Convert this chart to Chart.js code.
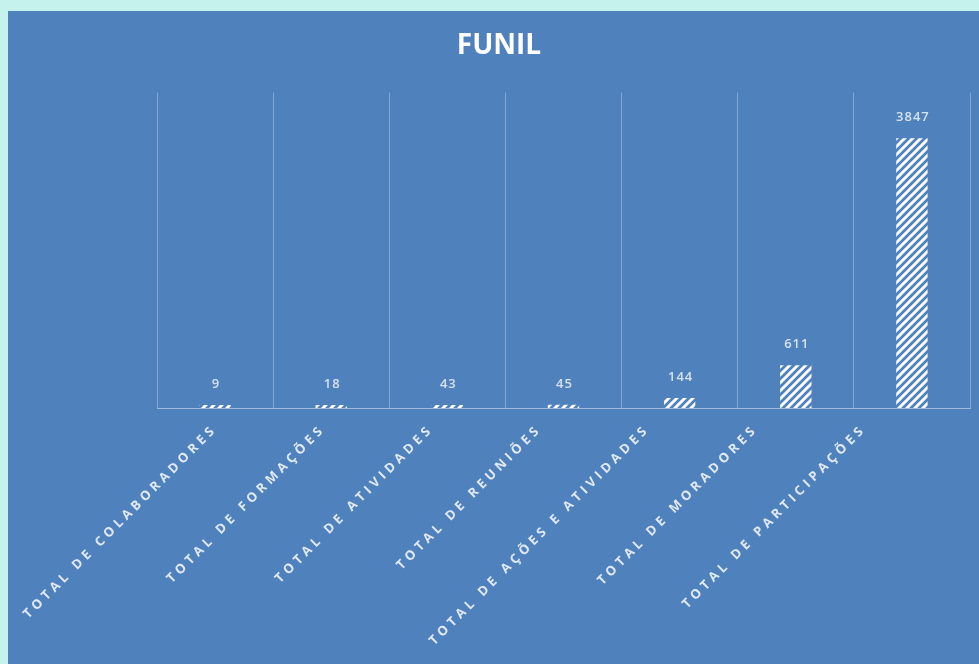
<!DOCTYPE html>
<html>
<head>
<meta charset="utf-8">
<script src="https://cdn.jsdelivr.net/npm/chart.js@4"></script>
<style>
  html, body { margin: 0; padding: 0; background: #c6f2ee; }
  #panel { position: absolute; left: 8px; top: 11px; width: 971px; height: 653px; background: #4f81bd; }
</style>
</head>
<body>
<div id="panel"><canvas id="funilChart" width="971" height="653"></canvas></div>
<script>
// chart data
const categories = [
  'TOTAL DE COLABORADORES',
  'TOTAL DE FORMAÇÕES',
  'TOTAL DE ATIVIDADES',
  'TOTAL DE REUNIÕES',
  'TOTAL DE AÇÕES E ATIVIDADES',
  'TOTAL DE MORADORES',
  'TOTAL DE PARTICIPAÇÕES'
];
const totals = [9, 18, 43, 45, 144, 611, 3847];
const chartTitle = 'FUNIL';

// white diagonal hatch, like the excel pattern fill
function makeHatch() {
  const c = document.createElement('canvas');
  c.width = 8; c.height = 8;
  const g = c.getContext('2d');
  g.strokeStyle = '#ffffff';
  g.lineWidth = 3;
  [[-1, 9, 9, -1], [-5, 5, 5, -5], [3, 13, 13, 3]].forEach(function(l) {
    g.beginPath(); g.moveTo(l[0], l[1]); g.lineTo(l[2], l[3]); g.stroke();
  });
  return g.createPattern(c, 'repeat');
}

// numbers above the bars
const valueLabels = {
  id: 'valueLabels',
  afterDatasetsDraw(chart) {
    const ctx = chart.ctx;
    const meta = chart.getDatasetMeta(0);
    ctx.save();
    ctx.font = '600 13px "Open Sans"';
    ctx.letterSpacing = '1px';
    ctx.fillStyle = 'rgba(228,235,245,0.9)';
    ctx.textAlign = 'center';
    ctx.textBaseline = 'middle';
    meta.data.forEach(function(bar, i) {
      ctx.fillText(String(totals[i]), bar.x + 1, bar.y - 21);
    });
    ctx.restore();
  }
};

// rotated, letter spaced category labels
const categoryLabels = {
  id: 'categoryLabels',
  afterDraw(chart) {
    const ctx = chart.ctx;
    const x = chart.scales.x;
    const top = chart.chartArea.bottom;
    ctx.save();
    ctx.font = 'bold 13px "Open Sans"';
    ctx.letterSpacing = '4px';
    ctx.fillStyle = 'rgba(240,244,250,0.9)';
    ctx.textAlign = 'right';
    ctx.textBaseline = 'middle';
    categories.forEach(function(lbl, i) {
      ctx.save();
      ctx.translate(x.getPixelForValue(i) - i * 8, top + 19);
      ctx.rotate(-Math.PI / 4);
      ctx.fillText(lbl, 0, 0);
      ctx.restore();
    });
    ctx.restore();
  }
};

function initChart() {
  const ctx = document.getElementById('funilChart').getContext('2d');
  new Chart(ctx, {
    type: 'bar',
    data: {
      labels: categories,
      datasets: [{
        data: totals,
        backgroundColor: makeHatch(),
        borderWidth: 0,
        barPercentage: 0.27,
        categoryPercentage: 1,
        minBarLength: 3
      }]
    },
    options: {
      responsive: false,
      animation: false,
      layout: { padding: { left: 20, right: 9, top: 0, bottom: 0 } },
      plugins: {
        legend: { display: false },
        tooltip: { enabled: false },
        title: {
          display: true,
          text: chartTitle,
          color: '#ffffff',
          font: { family: '"Open Sans"', size: 28, weight: 'bold' },
          padding: { top: 18, bottom: 30 }
        }
      },
      scales: {
        x: {
          grid: { offset: true, color: 'rgba(255,255,255,0.3)', drawTicks: false },
          border: { color: 'rgba(255,255,255,0.45)' },
          ticks: { display: false },
          afterFit: function(s) { s.height = 256; }
        },
        y: {
          min: 0,
          max: 4500,
          grid: { display: false },
          border: { display: false },
          ticks: { display: false },
          afterFit: function(s) { s.width = 129; }
        }
      }
    },
    plugins: [valueLabels, categoryLabels]
  });
}

window.addEventListener('load', initChart);
</script>
</body>
</html>
